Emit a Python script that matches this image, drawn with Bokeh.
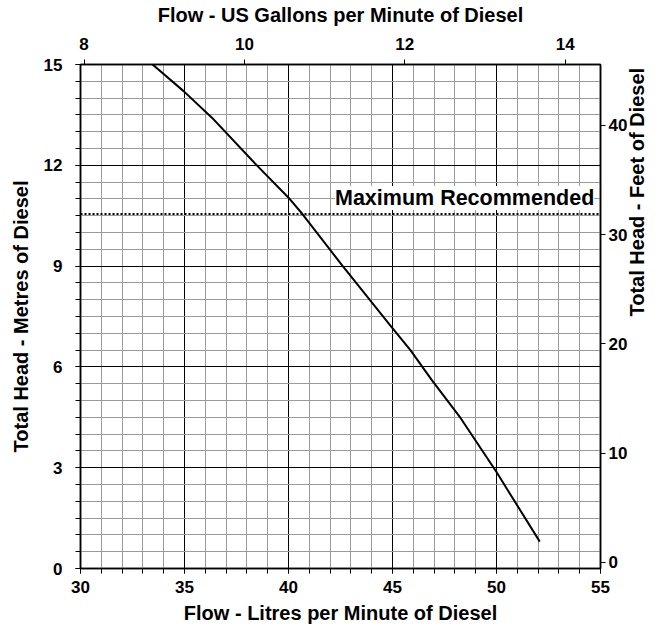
import math
from bokeh.plotting import figure
from bokeh.models import Range1d, LinearAxis, FixedTicker, Span, Label
from bokeh.embed import file_html
from bokeh.resources import INLINE

# ---- data ----
flow_lpm = [33.24, 34.97, 36.33, 38.49, 39.98, 40.67, 42.58, 44.9, 45.87, 46.9, 48.27, 50.0, 52.08]
head_m = [15.12, 14.2, 13.41, 11.99, 11.05, 10.55, 9.02, 7.23, 6.49, 5.6, 4.48, 2.87, 0.8]
max_recommended_m = 10.55

bottom_ticks = [30, 35, 40, 45, 50, 55]
bottom_minor = list(range(30, 56))
left_ticks = [0, 3, 6, 9, 12, 15]
left_minor = [i * 0.5 for i in range(31)]
top_ticks = [8, 10, 12, 14]
right_ticks = [0, 10, 20, 30, 40]

FONT = "Liberation Sans"

p = figure(width=662, height=631, x_range=Range1d(30, 55), y_range=Range1d(0, 15),
           output_backend="svg", toolbar_location=None,
           min_border_left=80, min_border_right=62, min_border_top=64, min_border_bottom=63,
           x_axis_location=None, y_axis_location=None)
p.outline_line_color = "black"
p.outline_line_width = 1.5
p.background_fill_color = "white"

p.extra_x_ranges = {"gal": Range1d(7.956, 14.44)}
p.extra_y_ranges = {"ft": Range1d(-0.55, 45.58)}

def style(ax):
    ax.axis_line_color = "black"
    ax.axis_line_width = 1.5
    ax.major_tick_line_color = "black"
    ax.major_tick_out = 5
    ax.major_tick_in = 0
    ax.minor_tick_line_color = "black"
    ax.minor_tick_out = 5
    ax.minor_tick_in = 0
    ax.major_label_text_font = FONT
    ax.major_label_text_font_style = "bold"
    ax.major_label_text_font_size = "17px"
    ax.major_label_text_color = "black"
    ax.axis_label_text_font = FONT
    ax.axis_label_text_font_style = "bold"
    ax.axis_label_text_font_size = "20px"
    ax.axis_label_text_color = "black"

bx = LinearAxis(ticker=FixedTicker(ticks=bottom_ticks, minor_ticks=bottom_minor),
                axis_label="Flow - Litres per Minute of Diesel")
style(bx)
bx.major_label_standoff = 7
bx.axis_label_standoff = 6
p.add_layout(bx, "below")

ly = LinearAxis(ticker=FixedTicker(ticks=left_ticks, minor_ticks=left_minor),
                axis_label="Total Head - Metres of Diesel")
style(ly)
ly.major_label_standoff = 13
ly.axis_label_standoff = 9
p.add_layout(ly, "left")

tx = LinearAxis(x_range_name="gal", ticker=FixedTicker(ticks=top_ticks),
                axis_label="Flow - US Gallons per Minute of Diesel")
style(tx)
tx.minor_tick_line_color = None
tx.major_label_standoff = 10
tx.axis_label_standoff = 9
p.add_layout(tx, "above")

ry = LinearAxis(y_range_name="ft", ticker=FixedTicker(ticks=right_ticks),
                axis_label="Total Head - Feet of Diesel")
style(ry)
ry.minor_tick_line_color = None
ry.major_label_standoff = 3
ry.axis_label_standoff = 7
ry.axis_label_orientation = math.pi / 2
p.add_layout(ry, "right")

p.xgrid.ticker = bx.ticker
p.ygrid.ticker = ly.ticker
for g in (p.xgrid, p.ygrid):
    g.grid_line_color = "black"
    g.grid_line_width = 1
    g.minor_grid_line_color = "#9a9a9a"
    g.minor_grid_line_width = 1

p.line(flow_lpm, head_m, line_color="black", line_width=2)

p.add_layout(Span(location=max_recommended_m, dimension="width", line_color="black",
                  line_width=2, line_dash="2 2"))
p.add_layout(Label(x=54.7, y=max_recommended_m, y_offset=4, text="Maximum Recommended",
                   text_align="right", text_baseline="bottom",
                   text_font=FONT, text_font_style="bold", text_font_size="21.5px",
                   text_color="black", background_fill_color="white"))

open("out.html", "w").write(file_html(p, INLINE))
